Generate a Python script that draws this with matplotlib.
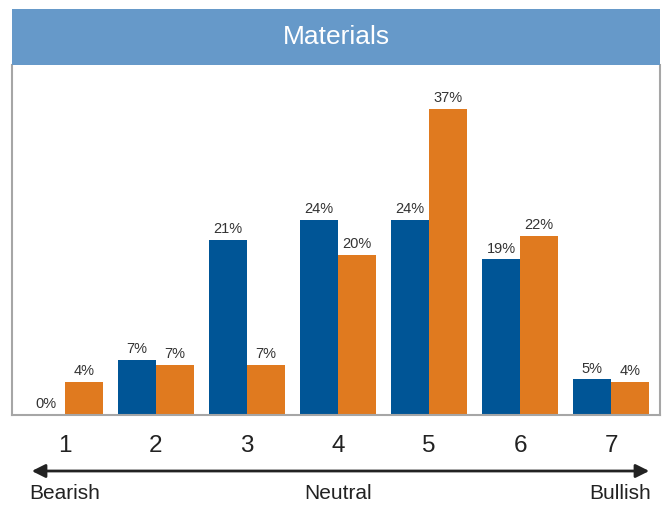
import numpy as np
import matplotlib
matplotlib.use("Agg")
import matplotlib.pyplot as plt
from matplotlib.patches import Rectangle, FancyArrowPatch

plt.rcParams['font.family'] = ['Liberation Sans', 'DejaVu Sans']

# data
categories = ['1', '2', '3', '4', '5', '6', '7']
blue_values = [0.0, 6.7, 21.2, 23.6, 23.6, 18.8, 4.3]
orange_values = [4.0, 6.1, 6.1, 19.3, 37.0, 21.6, 4.0]
blue_labels = ['0%', '7%', '21%', '24%', '24%', '19%', '5%']
orange_labels = ['4%', '7%', '7%', '20%', '37%', '22%', '4%']
scale_labels = ['Bearish', 'Neutral', 'Bullish']

BLUE = '#005596'
ORANGE = '#E07A1F'
HEADER = '#6699C9'
FRAME = '#A6A6A6'

fig = plt.figure(figsize=(6.66, 5.06), dpi=100)
ax = fig.add_axes([12/666, 1 - 416/506, 648/666, 350/506])

x = np.arange(1, len(categories) + 1)
width = 0.417
b1 = ax.bar(x - width/2, blue_values, width, color=BLUE)
b2 = ax.bar(x + width/2, orange_values, width, color=ORANGE)

# value labels
for rect, lab in zip(b1, blue_labels):
    ax.annotate(lab, (rect.get_x() + rect.get_width()/2, rect.get_height()),
                xytext=(0, 3.5), textcoords='offset points',
                ha='center', va='bottom', fontsize=10.5, color='#333333')
for rect, lab in zip(b2, orange_labels):
    ax.annotate(lab, (rect.get_x() + rect.get_width()/2, rect.get_height()),
                xytext=(0, 3.5), textcoords='offset points',
                ha='center', va='bottom', fontsize=10.5, color='#333333')

ax.set_xlim(0.418, 7.538)
ax.set_ylim(0, 42.3)
ax.set_yticks([])
ax.set_xticks(x)
ax.set_xticklabels(categories, fontsize=17.5, color='#222222')
ax.tick_params(axis='x', length=0, pad=14)

ax.spines['top'].set_visible(False)
for side in ['left', 'right', 'bottom']:
    ax.spines[side].set_color(FRAME)
    ax.spines[side].set_linewidth(1.5)

# header bar with title
fig.patches.append(Rectangle((12/666, 1 - 66/506), 648/666, 56/506,
                             transform=fig.transFigure, facecolor=HEADER,
                             edgecolor='none'))
fig.text(336/666, 1 - 37/506, 'Materials', ha='center', va='center',
         fontsize=19, color='white')

# bearish / bullish arrow
arrow = FancyArrowPatch((29/666, 1 - 472/506), (652/666, 1 - 472/506),
                        transform=fig.transFigure, arrowstyle='<|-|>',
                        mutation_scale=20, linewidth=2, color='#222222')
fig.patches.append(arrow)

fig.text(29/666, 1 - 494/506, scale_labels[0], ha='left', va='center',
         fontsize=15, color='#222222')
fig.text(338/666, 1 - 494/506, scale_labels[1], ha='center', va='center',
         fontsize=15, color='#222222')
fig.text(651/666, 1 - 494/506, scale_labels[2], ha='right', va='center',
         fontsize=15, color='#222222')

fig.savefig('out.png', dpi=100)
